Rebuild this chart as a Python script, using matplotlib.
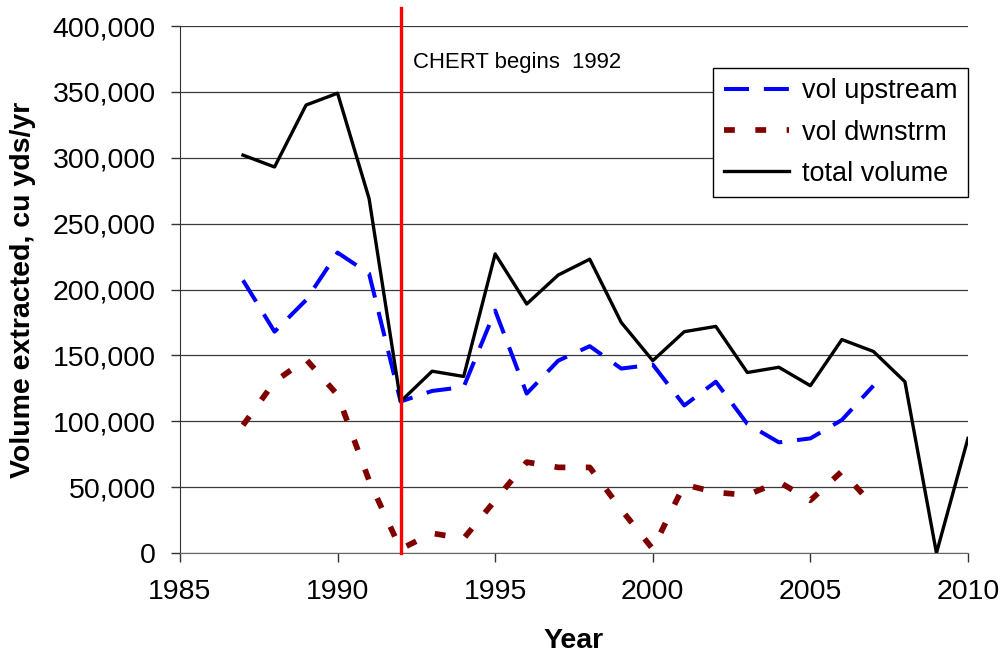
import matplotlib
matplotlib.use("Agg")
import matplotlib.pyplot as plt
from matplotlib.ticker import FuncFormatter

plt.rcParams['font.family'] = ['Liberation Sans', 'DejaVu Sans']

# donnees
years_total = [1987, 1988, 1989, 1990, 1991, 1992, 1993, 1994, 1995, 1996, 1997, 1998,
               1999, 2000, 2001, 2002, 2003, 2004, 2005, 2006, 2007, 2008, 2009, 2010]
total_volume = [302000, 293000, 340000, 349000, 269000, 115000, 138000, 134000, 227000,
                189000, 211000, 223000, 175000, 146000, 168000, 172000, 137000, 141000,
                127000, 162000, 153000, 130000, 0, 87000]

years_split = [1987, 1988, 1989, 1990, 1991, 1992, 1993, 1994, 1995, 1996, 1997, 1998,
               1999, 2000, 2001, 2002, 2003, 2004, 2005, 2006, 2007]
vol_upstream = [207000, 168000, 192000, 228000, 212000, 115000, 123000, 126000, 184000,
                121000, 146000, 157000, 140000, 143000, 112000, 130000, 98000, 84000,
                87000, 101000, 127000]
vol_dwnstrm = [97000, 130000, 147000, 120000, 55000, 3000, 15000, 11000, 40000, 69000,
               65000, 65000, 33000, 3000, 52000, 46000, 44000, 54000, 40000, 62000, 36000]

chert_year = 1992
chert_label = "CHERT begins  1992"
x_ticks = [1985, 1990, 1995, 2000, 2005, 2010]
y_ticks = [0, 50000, 100000, 150000, 200000, 250000, 300000, 350000, 400000]

fig = plt.figure(figsize=(10.01, 6.55), dpi=100)
ax = fig.add_axes([0.1798, 0.1557, 0.7872, 0.8046])

# grille horizontale
ax.set_axisbelow(True)
ax.yaxis.grid(True, color='#3a3a3a', linewidth=0.9)

ax.plot(years_split, vol_upstream, color='#0000FF', linewidth=2.9,
        linestyle=(0, (6.2, 3.7)), dash_capstyle='butt', label='vol upstream')
ax.plot(years_split, vol_dwnstrm, color='#800000', linewidth=4.1,
        linestyle=(0, (1.9, 3.6)), dash_capstyle='butt', label='vol dwnstrm')
ax.plot(years_total, total_volume, color='black', linewidth=2.4, label='total volume')

# ligne verticale CHERT
ax.axvline(chert_year, ymin=0, ymax=1.035, color='#FF0000', linewidth=2.4,
           clip_on=False, zorder=5)
ax.text(chert_year + 0.38, 372000, chert_label, fontsize=15.9, ha='left', va='center')

ax.set_xlim(1985, 2010)
ax.set_ylim(0, 400000)
ax.set_xticks(x_ticks)
ax.set_yticks(y_ticks)
ax.yaxis.set_major_formatter(FuncFormatter(lambda v, p: f"{int(v):,}"))

ax.tick_params(axis='both', labelsize=20.5, direction='out', length=6.5,
               width=1, color='#333333')
ax.tick_params(axis='y', pad=11)
ax.tick_params(axis='x', pad=12)

for s in ['top', 'right']:
    ax.spines[s].set_visible(False)
ax.spines['left'].set_color('#333333')
ax.spines['bottom'].set_color('#666666')

ax.set_xlabel("Year", fontsize=20.5, fontweight='bold', labelpad=17)
ax.set_ylabel("Volume extracted, cu yds/yr", fontsize=20.5, fontweight='bold', labelpad=12)

leg = ax.legend(loc='upper right', bbox_to_anchor=(1.0, 0.92), fontsize=19.5,
                fancybox=False, framealpha=1, edgecolor='black',
                handlelength=2.4, handletextpad=0.5, labelspacing=0.56,
                borderpad=0.38, borderaxespad=0.0)
leg.get_frame().set_linewidth(1.0)

plt.savefig("out.png", dpi=100)
plt.close()
